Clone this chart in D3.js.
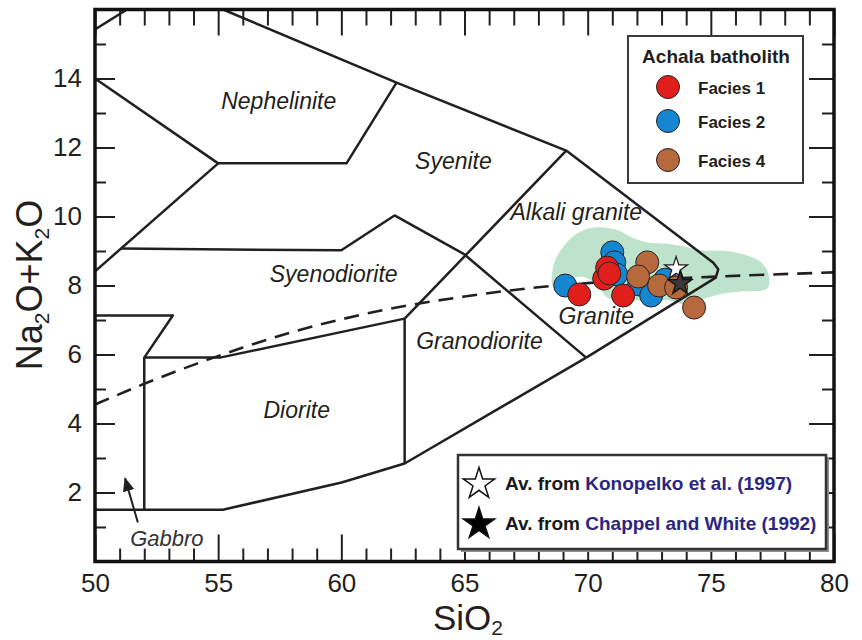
<!DOCTYPE html>
<html>
<head>
<meta charset="utf-8">
<script src="https://cdn.jsdelivr.net/npm/d3@7"></script>
<style>
  body { margin: 0; background: #fff; }
  svg { display: block; }
  text { font-family: "Liberation Sans", Arial, sans-serif; }
</style>
</head>
<body>
<svg id="chart" width="862" height="640"></svg>
<script>
// ---- Axis ticks ----
const siO2Major = [50, 55, 60, 65, 70, 75, 80];
const siO2Minor = d3.range(51, 80).filter(v => v % 5 !== 0);
const alkMajor = [2, 4, 6, 8, 10, 12, 14];
const alkMinor = [1, 3, 5, 7, 9, 11, 13, 15];

// ---- Samples (SiO2, Na2O+K2O) ----
const facies1 = [[69.66, 7.74], [70.67, 8.20], [70.79, 8.52], [70.88, 8.35], [71.44, 7.71]];
const facies2 = [[69.09, 8.00], [71.00, 8.96], [71.08, 8.67], [71.16, 8.32], [72.09, 8.03], [72.58, 7.71], [73.15, 8.17]];
const facies4 = [[72.42, 8.67], [72.05, 8.26], [72.90, 8.00], [73.59, 7.94], [74.32, 7.36]];
const avgKonopelko = [73.59, 8.49];
const avgChappell = [73.75, 8.06];

// Field of granite compositions (shaded envelope)
const graniteEnvelope = [
  [68.57, 8.00], [68.65, 8.67], [69.05, 9.16], [69.46, 9.45], [70.06, 9.66], [70.67, 9.68],
  [71.28, 9.59], [71.89, 9.36], [72.50, 9.24], [73.23, 9.21], [73.92, 9.13], [74.73, 9.01],
  [75.54, 9.01], [76.35, 8.90], [77.04, 8.67], [77.36, 8.29], [77.28, 7.91], [76.35, 7.83],
  [75.33, 7.74], [74.52, 7.57], [73.92, 7.45], [73.31, 7.57], [72.09, 7.57], [70.88, 7.62],
  [70.27, 8.09], [69.66, 8.26], [69.17, 8.09], [68.85, 7.80]
];

// ---- Classification field boundaries ----
const boundaries = [
  [[50, 15.42], [51.3, 16]],
  [[55.2, 16], [62.24, 13.88], [69.13, 11.91], [75.1, 8.66], [75.3, 8.47], [75.2, 8.23], [69.94, 5.91]],
  [[50, 14], [55, 11.54], [60.21, 11.54], [62.24, 13.88]],
  [[55, 11.54], [50, 8.41]],
  [[51.05, 9.07], [60.0, 9.02], [62.16, 10.03], [65.0, 8.9], [69.94, 5.91]],
  [[69.13, 11.91], [62.57, 7.04], [62.57, 2.84]],
  [[52.0, 5.91], [55.07, 5.91], [62.57, 7.04]],
  [[50, 7.13], [53.16, 7.13], [52.0, 5.91], [52.0, 1.5]],
  [[50, 1.5], [55.19, 1.5], [60.01, 2.29], [62.57, 2.84], [69.94, 5.91]]
];

// Alkaline / subalkaline divide
const alkalineDivide = [
  [50, 4.55], [52, 5.15], [54, 5.70], [56, 6.20], [58, 6.65], [60, 7.02],
  [62, 7.33], [65, 7.68], [68, 7.95], [70, 8.07], [75, 8.25], [80, 8.38]
];

const fieldNames = ["Nephelinite", "Syenite", "Alkali granite", "Syenodiorite", "Granodiorite", "Granite", "Diorite"];
const fieldAnchors = [[57.46, 13.13], [64.55, 11.39], [69.54, 9.91], [59.69, 8.09], [65.61, 6.17], [70.35, 6.87], [58.19, 4.17]];

const seriesNames = ["Facies 1", "Facies 2", "Facies 4"];
const seriesColors = ["#e01f1c", "#1586d2", "#b5693c"];

// ---- Layout ----
const svg = d3.select("#chart");
const plotLeft = 95, plotRight = 834, plotTop = 9.5, plotBottom = 561.5;
const x = d3.scaleLinear().domain([50, 80]).range([plotLeft, plotRight]);
const y = d3.scaleLinear().domain([0, 16]).range([plotBottom, plotTop]);
const ink = "#231f20";

const defs = svg.append("defs");
defs.append("clipPath").attr("id", "plotClip")
  .append("rect").attr("x", plotLeft).attr("y", plotTop)
  .attr("width", plotRight - plotLeft).attr("height", plotBottom - plotTop);
defs.append("marker").attr("id", "arrowHead")
  .attr("viewBox", "0 0 12 10").attr("refX", 11).attr("refY", 5)
  .attr("markerUnits", "userSpaceOnUse").attr("markerWidth", 14).attr("markerHeight", 12)
  .attr("orient", "auto")
  .append("path").attr("d", "M0,0 L12,5 L0,10 Z").attr("fill", ink);

const plot = svg.append("g").attr("clip-path", "url(#plotClip)");
const line = d3.line().x(d => x(d[0])).y(d => y(d[1]));

// Shaded envelope
plot.append("path")
  .datum(graniteEnvelope)
  .attr("d", d3.line().x(d => x(d[0])).y(d => y(d[1])).curve(d3.curveCatmullRomClosed.alpha(0.5)))
  .attr("fill", "#bde3cc");

// Field boundaries
plot.selectAll("path.field").data(boundaries).join("path")
  .attr("class", "field")
  .attr("d", line)
  .attr("fill", "none").attr("stroke", ink).attr("stroke-width", 2.5)
  .attr("stroke-linejoin", "round");

// Dashed divide
plot.append("path")
  .datum(alkalineDivide)
  .attr("d", d3.line().x(d => x(d[0])).y(d => y(d[1])).curve(d3.curveMonotoneX))
  .attr("fill", "none").attr("stroke", ink).attr("stroke-width", 2.6)
  .attr("stroke-dasharray", "15,9");

// Field names
svg.selectAll("text.field").data(fieldNames).join("text")
  .attr("class", "field")
  .attr("x", (d, i) => x(fieldAnchors[i][0]))
  .attr("y", (d, i) => y(fieldAnchors[i][1]))
  .attr("text-anchor", "middle")
  .attr("font-style", "italic").attr("font-size", 23).attr("fill", ink)
  .text(d => d);

// Gabbro pointer
const gabbroArrow = [[51.74, 1.13], [51.22, 2.41]];
svg.append("path").datum(gabbroArrow).attr("d", line)
  .attr("stroke", ink).attr("stroke-width", 2).attr("marker-end", "url(#arrowHead)");
svg.append("text").attr("x", x(52.92)).attr("y", y(0.46))
  .attr("text-anchor", "middle").attr("font-style", "italic").attr("font-size", 22).attr("fill", "#333")
  .text("Gabbro");

// Samples: facies 2, then 1, then 4
const drawOrder = [1, 0, 2];
const sets = [facies1, facies2, facies4];
drawOrder.forEach(i => {
  svg.append("g").selectAll("circle").data(sets[i]).join("circle")
    .attr("cx", d => x(d[0])).attr("cy", d => y(d[1])).attr("r", 11.5)
    .attr("fill", seriesColors[i]).attr("stroke", "#2a2222").attr("stroke-width", 1);
});

// Average compositions
const starShape = r => d3.symbol().type(d3.symbolStar).size(r * r / 0.8908130915292852)();
svg.append("path").attr("d", starShape(12))
  .attr("transform", `translate(${x(avgKonopelko[0])},${y(avgKonopelko[1])})`)
  .attr("fill", "#fff").attr("stroke", ink).attr("stroke-width", 1.3);
svg.append("path").attr("d", starShape(12.5))
  .attr("transform", `translate(${x(avgChappell[0])},${y(avgChappell[1])})`)
  .attr("fill", "#3d3838").attr("stroke", "#111").attr("stroke-width", 1.3);

// ---- Axes: inward ticks on all four sides ----
function styleAxis(g) {
  g.select(".domain").remove();
  g.selectAll(".tick line").attr("stroke", ink).attr("stroke-width", 2);
  g.selectAll(".tick text").attr("fill", ink).attr("font-size", 26)
    .attr("font-family", "'Liberation Sans', Arial, sans-serif");
}
svg.append("g").attr("transform", `translate(0,${plotBottom})`)
  .call(d3.axisBottom(x).tickValues(siO2Minor).tickSize(-13).tickFormat("")).call(styleAxis);
svg.append("g").attr("transform", `translate(0,${plotBottom})`)
  .call(d3.axisBottom(x).tickValues(siO2Major).tickSize(-27).tickPadding(12).tickFormat(d3.format("d"))).call(styleAxis);
svg.append("g").attr("transform", `translate(0,${plotTop})`)
  .call(d3.axisTop(x).tickValues(siO2Minor).tickSize(-16).tickFormat("")).call(styleAxis);
svg.append("g").attr("transform", `translate(0,${plotTop})`)
  .call(d3.axisTop(x).tickValues(siO2Major).tickSize(-26).tickFormat("")).call(styleAxis);
svg.append("g").attr("transform", `translate(${plotLeft},0)`)
  .call(d3.axisLeft(y).tickValues(alkMinor).tickSize(-11).tickFormat("")).call(styleAxis);
svg.append("g").attr("transform", `translate(${plotLeft},0)`)
  .call(d3.axisLeft(y).tickValues(alkMajor).tickSize(-20).tickPadding(13).tickFormat(d3.format("d"))).call(styleAxis);
svg.append("g").attr("transform", `translate(${plotRight},0)`)
  .call(d3.axisRight(y).tickValues(alkMinor).tickSize(-12).tickFormat("")).call(styleAxis);
svg.append("g").attr("transform", `translate(${plotRight},0)`)
  .call(d3.axisRight(y).tickValues(alkMajor).tickSize(-25).tickFormat("")).call(styleAxis);

// Frame
svg.append("rect").attr("x", plotLeft).attr("y", plotTop)
  .attr("width", plotRight - plotLeft).attr("height", plotBottom - plotTop)
  .attr("fill", "none").attr("stroke", "#111").attr("stroke-width", 3.5);

// Axis titles
const xTitle = svg.append("text").attr("x", 468).attr("y", 630).attr("text-anchor", "middle")
  .attr("font-size", 35).attr("fill", ink);
xTitle.append("tspan").text("SiO");
xTitle.append("tspan").attr("font-size", 21).attr("dy", 5).text("2");

const yTitle = svg.append("text").attr("transform", "translate(42,285) rotate(-90)")
  .attr("text-anchor", "middle").attr("font-size", 36).attr("fill", ink);
yTitle.append("tspan").text("Na");
yTitle.append("tspan").attr("font-size", 21).attr("dy", 7).text("2");
yTitle.append("tspan").attr("dy", -7).text("O+K");
yTitle.append("tspan").attr("font-size", 21).attr("dy", 7).text("2");
yTitle.append("tspan").attr("dy", -7).text("O");

// ---- Legend: sample groups ----
const lg = svg.append("g");
lg.append("rect").attr("x", 628).attr("y", 36).attr("width", 175).attr("height", 147)
  .attr("fill", "#fff").attr("stroke", "#3a3a3a").attr("stroke-width", 2);
lg.append("text").attr("x", 716).attr("y", 63).attr("text-anchor", "middle")
  .attr("font-weight", "bold").attr("font-size", 19).attr("fill", ink).text("Achala batholith");
const legendRows = [87, 121, 160];
lg.selectAll("circle").data(seriesNames).join("circle")
  .attr("cx", 668).attr("cy", (d, i) => legendRows[i]).attr("r", 11.5)
  .attr("fill", (d, i) => seriesColors[i]).attr("stroke", "#2a2222").attr("stroke-width", 1);
lg.selectAll("text.item").data(seriesNames).join("text").attr("class", "item")
  .attr("x", 698).attr("y", (d, i) => legendRows[i] + 6.5)
  .attr("font-weight", "bold").attr("font-size", 17).attr("fill", ink).text(d => d);

// ---- Legend: reference averages ----
const rg = svg.append("g");
rg.append("rect").attr("x", 461).attr("y", 458).attr("width", 368).attr("height", 94)
  .attr("fill", "#8c8c8c");
rg.append("rect").attr("x", 458).attr("y", 455).attr("width", 368).attr("height", 94)
  .attr("fill", "#fff").attr("stroke", "#333").attr("stroke-width", 2.5);
const refRows = [
  { y: 483, fill: "#fff", prefix: "Av. from ", cite: "Konopelko et al. (1997)" },
  { y: 523, fill: "#000", prefix: "Av. from ", cite: "Chappel and White (1992)" }
];
refRows.forEach(r => {
  rg.append("path").attr("d", starShape(16.5))
    .attr("transform", `translate(479,${r.y + 1})`)
    .attr("fill", r.fill).attr("stroke", "#111").attr("stroke-width", 1.5);
  const t = rg.append("text").attr("x", 505).attr("y", r.y + 6.5)
    .attr("font-weight", "bold").attr("font-size", 19);
  t.append("tspan").attr("fill", "#1a1a1a").text(r.prefix);
  t.append("tspan").attr("fill", "#2b2680").text(r.cite);
});
</script>
</body>
</html>
